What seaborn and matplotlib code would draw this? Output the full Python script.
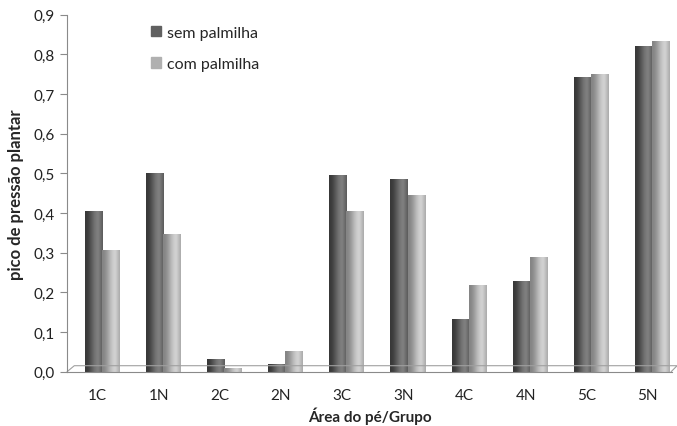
import numpy as np
import pandas as pd
import seaborn as sns
import matplotlib.pyplot as plt
from matplotlib.patches import Patch
from matplotlib.ticker import FuncFormatter

# data
areas = ["1C", "1N", "2C", "2N", "3C", "3N", "4C", "4N", "5C", "5N"]
sem_palmilha = [0.405, 0.500, 0.033, 0.020, 0.495, 0.485, 0.133, 0.230, 0.742, 0.822]
com_palmilha = [0.308, 0.348, 0.010, 0.052, 0.405, 0.445, 0.220, 0.290, 0.752, 0.835]
groups = ["sem palmilha", "com palmilha"]

df = pd.DataFrame({
    "area": areas * 2,
    "valor": sem_palmilha + com_palmilha,
    "grupo": [groups[0]] * len(areas) + [groups[1]] * len(areas),
})

sns.set_style("white")
plt.rcParams["font.family"] = ["Lato", "DejaVu Sans"]

fig = plt.figure(figsize=(6.77, 4.27), dpi=100)
ax = fig.add_axes([0.099, 0.127, 0.894, 0.836])

pal = {groups[0]: "#5c5c5c", groups[1]: "#ababab"}
sns.barplot(data=df, x="area", y="valor", hue="grupo", palette=pal,
            width=0.56, dodge=True, legend=False, ax=ax, linewidth=0)

# cylinder-like shading on each bar (bars nudged right for the 3D depth)
t = np.linspace(0, 1, 64)
shape = 0.5 - 0.5 * np.cos(np.pi * np.clip(t / 0.75, 0, 1))
shape[t > 0.75] = 1 - 0.5 * (t[t > 0.75] - 0.75) / 0.25
dark = 0.22 + 0.28 * shape
light = 0.52 + 0.30 * shape
n = len(areas)
for i, p in enumerate(ax.patches[:2 * n]):
    p.set_x(p.get_x() + 0.07)
    g = dark if i < n else light
    x0, y0 = p.get_x(), p.get_y()
    w, h = p.get_width(), p.get_height()
    im = ax.imshow(g[np.newaxis, :], cmap="gray", vmin=0, vmax=1, aspect="auto",
                   extent=[x0, x0 + w, y0, y0 + h], zorder=p.get_zorder(),
                   interpolation="bilinear")
    im.set_clip_path(p)

ax.set_xlim(-0.5, len(areas) - 0.6)
ax.set_ylim(0, 0.9)
ax.set_yticks(np.arange(0, 0.91, 0.1))
ax.yaxis.set_major_formatter(FuncFormatter(lambda v, pos: f"{v:.1f}".replace(".", ",")))
ax.set_xticks(range(len(areas)))
ax.set_xticks(np.arange(0.5, len(areas) - 0.5, 1), minor=True)
ax.tick_params(axis="x", which="major", length=0, pad=12, labelsize=11, colors="#222222")
ax.tick_params(axis="x", which="minor", length=6, width=0.8, color="#8a8a8a", direction="out")
ax.tick_params(axis="y", length=5, width=0.8, color="#8a8a8a", direction="out",
               labelsize=11, labelcolor="#222222", left=True)

for s in ["top", "right"]:
    ax.spines[s].set_visible(False)
for s in ["left", "bottom"]:
    ax.spines[s].set_color("#8a8a8a")
    ax.spines[s].set_linewidth(0.8)

# floor outline
ax.plot([0.0, 0.012, 1.008, 0.998], [0.0, 0.017, 0.017, 0.0], transform=ax.transAxes,
        color="#a0a0a0", lw=0.8, clip_on=False)

ax.set_xlabel("Área do pé/Grupo", fontsize=11, fontweight="bold", labelpad=3)
ax.set_ylabel("pico de pressão plantar", fontsize=12, fontweight="bold", labelpad=7)

handles = [Patch(color="#606060", label=groups[0]),
           Patch(color="#b0b0b0", label=groups[1])]
ax.legend(handles=handles, loc="upper left", bbox_to_anchor=(0.115, 1.01), frameon=False,
          fontsize=11.5, labelspacing=1.1, handlelength=0.6, handleheight=0.6,
          handletextpad=0.4)

fig.savefig("out.png", dpi=100)
